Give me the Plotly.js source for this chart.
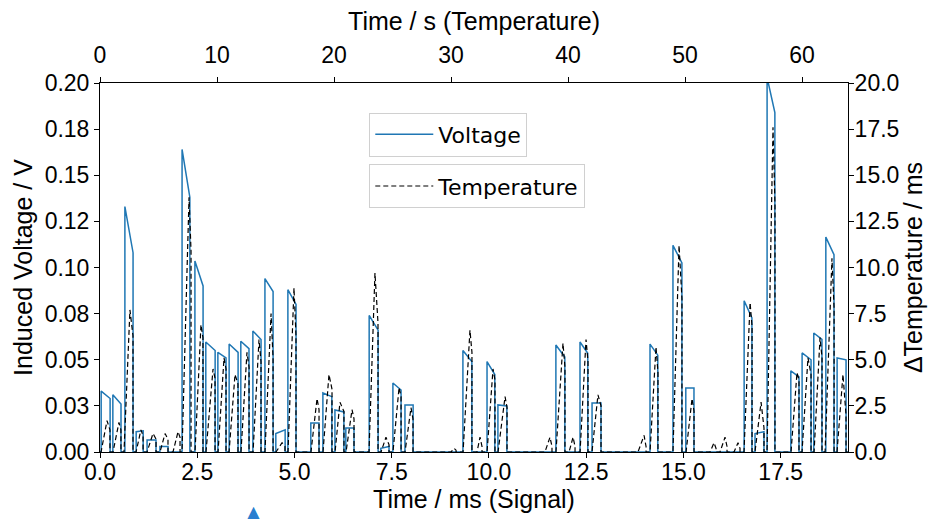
<!DOCTYPE html>
<html><head><meta charset="utf-8">
<script src="https://cdn.plot.ly/plotly-3.0.1.min.js"></script>
<style>html,body{margin:0;padding:0;background:#fff}#chart{width:935px;height:519px}</style>
</head><body><div id="chart"></div>
<script>
// Voltage pulses (signal time in ms, induced voltage in V)
const pulseStartMs = [0.03,0.33,0.64,0.93,1.21,1.54,2.11,2.44,2.72,3.03,3.32,3.62,3.93,4.24,4.52,4.83,5.42,5.73,6.04,6.32,6.92,7.22,7.53,7.84,9.33,9.95,10.23,11.72,12.34,12.65,14.14,14.73,15.06,16.56,16.84,17.15,17.76,18.05,18.35,18.66,18.95];
const pulseEndMs   = [0.26,0.54,0.85,1.11,1.44,1.75,2.31,2.65,2.96,3.24,3.55,3.83,4.14,4.45,4.76,5.04,5.63,5.96,6.27,6.53,7.15,7.43,7.74,8.05,9.56,10.15,10.46,11.95,12.54,12.88,14.34,14.96,15.27,16.76,17.07,17.35,17.97,18.28,18.56,18.87,19.18];
const pulseVStart  = [0.033,0.031,0.133,0.011,0.0065,0.003,0.164,0.1035,0.0596,0.054,0.0585,0.060,0.0656,0.094,0.010,0.088,0.0157,0.032,0.0228,0.013,0.074,0.002,0.0374,0.0255,0.055,0.049,0.0255,0.058,0.0596,0.0266,0.0585,0.112,0.0347,0.082,0.010,0.203,0.044,0.0537,0.0645,0.1165,0.051];
const pulseVEnd    = [0.029,0.026,0.108,0.0115,0.0065,0.003,0.138,0.090,0.055,0.051,0.054,0.056,0.061,0.087,0.012,0.080,0.0157,0.030,0.0217,0.013,0.066,0.003,0.0336,0.0255,0.049,0.042,0.025,0.0515,0.0535,0.0266,0.0525,0.1025,0.0347,0.0727,0.011,0.184,0.0407,0.050,0.061,0.107,0.050];
const signalEndMs = 19.23;

// Temperature bumps (time in s, delta temperature)
const tempStartS = [0.09,1.11,2.05,3.08,4.02,5.13,6.24,7.01,8.12,9.06,10.09,11.03,12.05,13.08,14.10,15.04,16.07,18.03,19.06,20.09,21.03,22.99,24.02,25.04,26.07,30.00,31.03,32.22,33.08,34.02,38.03,38.97,40.09,41.03,42.05,45.98,47.01,48.97,50.09,52.14,52.99,54.19,55.04,55.98,57.01,59.06,60.00,61.03,61.97,62.99];
const tempPeakS  = [0.60,1.62,2.56,3.50,4.53,5.56,6.67,7.61,8.63,9.66,10.60,11.54,12.56,13.59,14.62,15.56,16.58,18.55,19.57,20.51,21.54,23.50,24.44,25.56,26.58,30.26,31.62,32.48,33.59,34.62,38.46,39.57,40.43,41.54,42.56,46.50,47.52,49.49,50.60,52.48,53.42,54.53,55.56,56.50,57.52,59.57,60.51,61.54,62.56,63.50];
const tempPeak   = [1.7,1.6,7.7,1.2,1.0,1.0,1.1,13.8,6.9,4.5,5.1,4.2,5.4,6.1,7.5,0.5,8.9,2.9,4.2,2.7,2.3,9.7,0.8,3.5,2.4,0.2,6.6,0.8,4.5,3.0,0.8,5.9,0.8,6.1,3.1,0.9,5.7,11.2,2.9,0.5,0.8,0.5,8.1,2.7,17.6,4.3,5.1,6.2,10.5,4.2];
const tempEndS   = [0.85,1.79,2.82,3.68,4.79,5.81,6.84,7.78,8.80,9.83,10.77,11.79,12.74,13.76,14.79,15.81,16.75,18.72,19.83,20.85,21.71,23.76,24.70,25.73,26.75,30.43,31.79,32.65,33.76,34.79,38.63,39.74,40.60,41.71,42.82,46.67,47.69,49.74,50.77,52.65,53.59,54.70,55.73,56.75,57.69,59.74,60.77,61.71,62.74,63.76];
const tempEnd    = [1.2,1.2,6.3,0.9,0.7,0.7,0.8,10.9,6.2,4.0,4.5,3.7,4.6,4.9,5.1,0.3,6.3,2.3,3.4,2.2,1.8,7.0,0.4,3.0,1.8,0.1,5.4,0.3,3.9,2.4,0.3,4.6,0.3,4.9,2.5,0.3,4.3,8.3,2.2,0.2,0.3,0.2,6.8,1.3,13.4,3.9,4.2,5.1,7.8,2.0];
const tempEndS_axis = 63.93;

const voltTickVals = [0,0.025,0.05,0.075,0.1,0.125,0.15,0.175,0.2];
const voltTickText = ["0.00","0.03","0.05","0.08","0.10","0.12","0.15","0.18","0.20"];

// Build voltage polyline
const vx = [0], vy = [0];
for (let i = 0; i < pulseStartMs.length; i++) {
  vx.push(pulseStartMs[i], pulseStartMs[i], pulseEndMs[i], pulseEndMs[i]);
  vy.push(0, pulseVStart[i], pulseVEnd[i], 0);
}
vx.push(signalEndMs); vy.push(0);

// Build temperature polyline
const tx = [0], ty = [0];
for (let i = 0; i < tempStartS.length; i++) {
  tx.push(tempStartS[i], tempPeakS[i], tempEndS[i], tempEndS[i]);
  ty.push(0, tempPeak[i], tempEnd[i], 0);
}
tx.push(tempEndS_axis); ty.push(0);

const FAM = "Liberation Sans, Arial, sans-serif";
const tickFont = {family: FAM, size: 23, color: "#000"};
const titleFont = {family: FAM, size: 25, color: "#000"};

const traces = [
  {x: vx, y: vy, type: "scatter", mode: "lines", name: "Voltage",
   line: {color: "#1f77b4", width: 1.5}, xaxis: "x", yaxis: "y", legend: "legend"},
  {x: tx, y: ty, type: "scatter", mode: "lines", name: "Temperature",
   line: {color: "#000", width: 1.2, dash: "5px,3px"}, xaxis: "x2", yaxis: "y2", legend: "legend2"}
];

const axCommon = {showline: true, linecolor: "#000", linewidth: 1, ticks: "outside", ticklen: 5,
  tickcolor: "#000", showgrid: false, zeroline: false, tickfont: tickFont};

const legFont = {family: "DejaVu Sans", size: 22, color: "#000"};

const layout = {
  width: 935, height: 519,
  margin: {l: 100, r: 87, t: 83, b: 67},
  paper_bgcolor: "#fff", plot_bgcolor: "#fff",
  showlegend: true,
  xaxis: Object.assign({}, axCommon, {range: [0, signalEndMs], tickvals: [0,2.5,5,7.5,10,12.5,15,17.5],
    tickformat: ".1f", ticklabelstandoff: -6, title: {text: "Time / ms (Signal)", font: titleFont, standoff: 2}}),
  xaxis2: Object.assign({}, axCommon, {range: [0, tempEndS_axis], overlaying: "x", side: "top", dtick: 10,
    ticklabelstandoff: 5, title: {text: "Time / s (Temperature)", font: titleFont, standoff: 4}}),
  yaxis: Object.assign({}, axCommon, {range: [0, 0.2], tickvals: voltTickVals, ticktext: voltTickText,
    title: {text: "Induced Voltage / V", font: titleFont, standoff: 4}}),
  yaxis2: Object.assign({}, axCommon, {range: [0, 20], overlaying: "y", side: "right", dtick: 2.5, tickformat: ".1f",
    ticklabelstandoff: -4, title: {text: "ΔTemperature / ms", font: titleFont, standoff: 6}}),
  legend: {x: 0.36, y: 0.92, xanchor: "left", yanchor: "top", bgcolor: "rgba(255,255,255,0.85)", itemwidth: 58,
    bordercolor: "#d0d0d0", borderwidth: 1, font: legFont},
  legend2: {x: 0.36, y: 0.78, xanchor: "left", yanchor: "top", bgcolor: "rgba(255,255,255,0.85)", itemwidth: 58,
    bordercolor: "#d0d0d0", borderwidth: 1, font: legFont},
  annotations: [{text: "▲", xref: "paper", yref: "paper", x: 0.205, y: -0.128, xanchor: "center", yanchor: "top",
    showarrow: false, font: {family: "DejaVu Sans", size: 22, color: "#2a7fd0"}}]
};

Plotly.newPlot("chart", traces, layout, {displayModeBar: false, staticPlot: true});
</script></body></html>
